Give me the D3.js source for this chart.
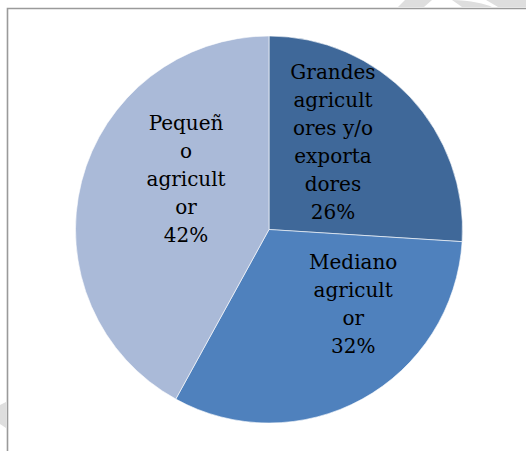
<!DOCTYPE html>
<html>
<head>
<meta charset="utf-8">
<script src="https://cdn.jsdelivr.net/npm/d3@7"></script>
<style>
  html, body { margin: 0; padding: 0; background: #fff; }
  svg { display: block; }
</style>
</head>
<body>
<svg id="chart" width="526" height="451"></svg>
<script>
// Distribution of producers by type (share, %)
const categories = [
  "Grandes agricultores y/o exportadores",
  "Mediano agricultor",
  "Pequeño agricultor"
];
const shares = [26, 32, 42];
// Label lines as the category names wrap inside each slice
const labelLines = [
  ["Grandes", "agricult", "ores y/o", "exporta", "dores"],
  ["Mediano", "agricult", "or"],
  ["Pequeñ", "o", "agricult", "or"]
];
const sliceColors = ["#3f6899", "#4f81bd", "#aabad8"];

const width = 526, height = 451;
const cx = 269, cy = 229.5, radius = 193.5;
// Nudges from each slice centroid to where its label block sits
const labelNudge = [[-15, -13], [32, -20], [22, -24]];

const svg = d3.select("#chart");

// Faint watermark fragments behind the frame
const wm = svg.append("g").attr("fill", "#dedede");
wm.append("path").attr("d", "M405,0 L432,0 L424,7 L398,7 Z");
wm.append("path").attr("d", "M452,0 C470,0 486,4 492,7 L462,7 Z");
wm.append("path").attr("d", "M486,0 L526,0 L526,7 L498,7 Z");
wm.append("path").attr("d", "M0,405 L6,402 L6,428 L0,424 Z");

// Chart area frame (open to the right and bottom)
svg.append("path")
  .attr("d", `M7.5,${height} L7.5,8.5 L${width},8.5`)
  .attr("fill", "none")
  .attr("stroke", "#9a9a9a")
  .attr("stroke-width", 1.6);

const data = categories.map((c, i) => ({ name: c, value: shares[i], i }));

const pie = d3.pie().value(d => d.value).sort(null);
const arcs = pie(data);
const arc = d3.arc().innerRadius(0).outerRadius(radius);

const g = svg.append("g").attr("transform", `translate(${cx},${cy})`);

g.selectAll("path.slice")
  .data(arcs)
  .enter().append("path")
  .attr("class", "slice")
  .attr("d", arc)
  .attr("fill", d => sliceColors[d.data.i])
  .attr("stroke", "#ffffff")
  .attr("stroke-width", 0.6);

// Labels: wrapped name followed by the percentage
const labelArc = d3.arc().innerRadius(radius * 0.56).outerRadius(radius * 0.56);
const lineH = 28;
g.selectAll("text.lbl")
  .data(arcs)
  .enter().append("text")
  .attr("class", "lbl")
  .attr("text-anchor", "middle")
  .attr("font-family", "'DejaVu Serif', serif")
  .attr("font-size", 20)
  .attr("fill", "#000")
  .each(function(d) {
    const i = d.data.i;
    const lines = labelLines[i].concat([d3.format("d")(d.data.value) + "%"]);
    const [x0, y0] = labelArc.centroid(d);
    const x = x0 + labelNudge[i][0];
    const y = y0 + labelNudge[i][1];
    const top = y - (lines.length - 1) * lineH / 2;
    const t = d3.select(this);
    lines.forEach((ln, k) => {
      t.append("tspan")
        .attr("x", x)
        .attr("y", top + k * lineH)
        .attr("dy", "0.35em")
        .text(ln);
    });
  });
</script>
</body>
</html>
